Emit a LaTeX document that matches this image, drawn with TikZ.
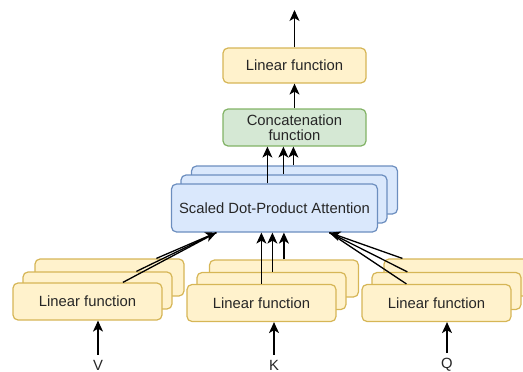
\documentclass[tikz,border=0pt]{standalone}
\usepackage{fontspec}
\setmainfont{Liberation Sans}
\usetikzlibrary{arrows.meta,positioning}
\definecolor{yfill}{HTML}{FFF2CC}
\definecolor{ydraw}{HTML}{D6B656}
\definecolor{gfill}{HTML}{D5E8D4}
\definecolor{gdraw}{HTML}{82B366}
\definecolor{bfill}{HTML}{DAE8FC}
\definecolor{bdraw}{HTML}{6C8EBF}
\tikzset{
  base/.style={rectangle, rounded corners=5pt, line width=1.2pt, inner sep=0pt,
    font=\fontsize{14.8}{16.5}\selectfont, text=black!85, align=center},
  ybox/.style={base, fill=yfill, draw=ydraw, minimum width=149pt, minimum height=37pt},
  gbox/.style={base, fill=gfill, draw=gdraw, minimum width=143pt, minimum height=37pt},
  bbox/.style={base, fill=bfill, draw=bdraw, minimum width=206pt, minimum height=48pt},
  arr/.style={line width=1.3pt, -{Stealth[length=11pt,width=10pt,inset=3pt]}},
  ln/.style={line width=1.3pt},
  lbl/.style={font=\fontsize{14.8}{16.5}\selectfont, text=black!85, inner sep=0pt}
}
\begin{document}
\begin{tikzpicture}[x=1pt,y=-1pt]
\useasboundingbox (0,0) rectangle (523,372);
\clip (0,0) rectangle (523,372);
% top linear
\node[ybox, minimum width=143pt, minimum height=35pt] (top) at (294.5,65.5) {Linear function};
\coordinate (out) at (294.5,10);
% concat
\node[gbox] (cat) at (294.5,127.5) {Concatenation\\[-1pt]function};
% attention stack
\node[bbox] (att3) at (294.5,190) {};
\node[bbox] (att2) at (284,199) {};
\node[bbox] (att1) at (274.5,208) {Scaled Dot-Product Attention};
% left group
\node[ybox] (v3) at (109.5,277.5) {};
\node[ybox] (v2) at (97.5,290.5) {};
\node[ybox] (v1) at (87.5,301.5) {Linear function};
% middle group
\node[ybox] (k3) at (284,278.5) {};
\node[ybox] (k2) at (271.5,291) {};
\node[ybox] (k1) at (261.5,303) {Linear function};
% right group
\node[ybox] (q3) at (458.5,277.5) {};
\node[ybox] (q2) at (446.5,291) {};
\node[ybox] (q1) at (436.5,303) {Linear function};
% labels
\node[lbl] (V) at (98,365) {V};
\node[lbl] (K) at (274,365) {K};
\node[lbl] (Q) at (447,365) {Q};
% input arrows
\draw[arr] (V.north) ++(0,-5) coordinate (vs) -- (vs |- v1.south);
\draw[arr] (K.north) ++(0,-5) coordinate (ks) -- (ks |- k1.south);
\draw[arr] (Q.north) ++(0,-5) coordinate (qs) -- (qs |- q1.south);
% convergence points on attention bottom
\coordinate (ain) at ([xshift=45.5pt]att1.south west);
\coordinate (qin) at ([xshift=158.5pt]att1.south west);
% V lines
\draw[ln] ([xshift=110.5pt]v1.north west) -- (ain);
\draw[ln] ([xshift=114pt]v2.north west) -- (ain);
\draw[arr] ([xshift=122pt]v3.north west) -- (ain);
% K arrows
\draw[arr] ([xshift=75pt]k1.north west) -- ([xshift=75pt]k1.north west |- att1.south);
\draw[arr] ([xshift=76pt]k2.north west) -- ([xshift=76pt]k2.north west |- att1.south);
\draw[arr] ([xshift=75pt]k3.north west) -- ([xshift=75pt]k3.north west |- att1.south);
% Q lines
\draw[ln] ([xshift=45pt]q1.north west) -- (qin);
\draw[ln] ([xshift=36pt]q2.north west) -- (qin);
\draw[arr] ([xshift=19pt]q3.north west) -- (qin);
% attention to concat
\draw[arr] ([xshift=96.5pt]att1.north west) -- ([xshift=96.5pt]att1.north west |- cat.south);
\draw[arr] ([xshift=103pt]att2.north west) -- ([xshift=103pt]att2.north west |- cat.south);
\draw[arr] ([xshift=102.5pt]att3.north west) -- ([xshift=102.5pt]att3.north west |- cat.south);
% concat to top
\draw[arr] (cat.north) -- (top.south);
\draw[arr] (top.north) -- (out);
\end{tikzpicture}
\end{document}
